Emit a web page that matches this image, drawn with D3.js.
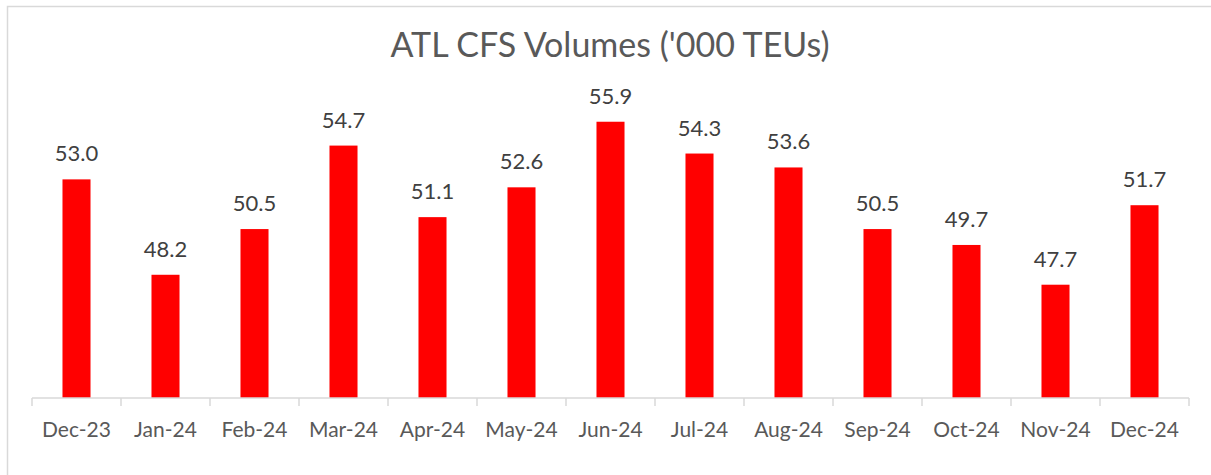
<!DOCTYPE html>
<html lang="en">
  <head>
    <meta charset="UTF-8" />
    <title>ATL CFS Volumes</title>
    <script src="https://d3js.org/d3.v7.min.js"></script>
    <style>
      body { margin: 0; background: #fff; }
      text { font-family: Lato, "Open Sans", sans-serif; }
    </style>
  </head>
  <body>
    <div id="chart"></div>
    <script>
      // chart data
      const months = ["Dec-23", "Jan-24", "Feb-24", "Mar-24", "Apr-24", "May-24", "Jun-24",
                      "Jul-24", "Aug-24", "Sep-24", "Oct-24", "Nov-24", "Dec-24"];
      const volumes = [53.0, 48.2, 50.5, 54.7, 51.1, 52.6, 55.9, 54.3, 53.6, 50.5, 49.7, 47.7, 51.7];
      const yDomain = [42, 58];

      const width = 1211, height = 475;
      const svg = d3.select("#chart").append("svg")
        .attr("width", width)
        .attr("height", height);

      // outer chart frame
      svg.append("rect")
        .attr("x", 7.5).attr("y", 6.5)
        .attr("width", 1230).attr("height", 500)
        .attr("fill", "none")
        .attr("stroke", "#d9d9d9")
        .attr("stroke-width", 1.5);

      svg.append("text")
        .attr("x", 610).attr("y", 57)
        .attr("text-anchor", "middle")
        .attr("font-size", "34px")
        .attr("fill", "#595959")
        .text("ATL CFS Volumes ('000 TEUs)");

      const x = d3.scaleBand().domain(months).range([32, 1189]).paddingInner(0.685).paddingOuter(0.3425);
      const y = d3.scaleLinear().domain(yDomain).range([398, 80]);

      svg.selectAll(".bar")
        .data(volumes)
        .join("rect")
        .attr("class", "bar")
        .attr("x", (d, i) => x(months[i]))
        .attr("y", d => y(d))
        .attr("width", x.bandwidth())
        .attr("height", d => y(yDomain[0]) - y(d))
        .attr("fill", "#ff0000");

      svg.selectAll(".lbl")
        .data(volumes)
        .join("text")
        .attr("class", "lbl")
        .attr("x", (d, i) => x(months[i]) + x.bandwidth() / 2)
        .attr("y", d => y(d) - 18)
        .attr("text-anchor", "middle")
        .attr("font-size", "22px")
        .attr("fill", "#404040")
        .text(d => d.toFixed(1));

      // category axis with ticks between bars
      const xAxis = d3.scaleBand().domain(months).range([32, 1189]);
      const axis = svg.append("g").attr("transform", "translate(0,398)");
      axis.append("line")
        .attr("x1", 32).attr("x2", 1189)
        .attr("stroke", "#d9d9d9").attr("stroke-width", 1.5);
      axis.selectAll(".tick")
        .data(months.concat([null]))
        .join("line")
        .attr("x1", (d, i) => 32 + i * xAxis.step())
        .attr("x2", (d, i) => 32 + i * xAxis.step())
        .attr("y1", 0).attr("y2", 8)
        .attr("stroke", "#d9d9d9").attr("stroke-width", 1.5);
      axis.selectAll(".xl")
        .data(months)
        .join("text")
        .attr("x", d => xAxis(d) + xAxis.bandwidth() / 2)
        .attr("y", 39)
        .attr("text-anchor", "middle")
        .attr("font-size", "21px")
        .attr("fill", "#595959")
        .text(d => d);
    </script>
  </body>
</html>
